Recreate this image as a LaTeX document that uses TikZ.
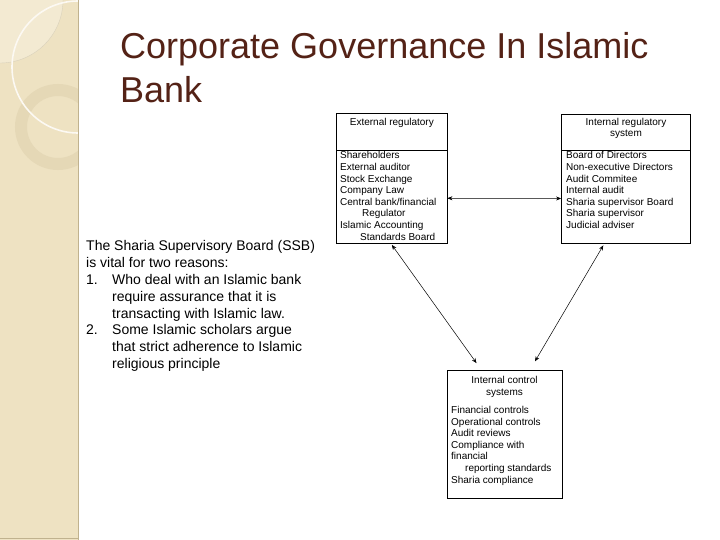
\documentclass[tikz,border=0pt]{standalone}
\usepackage{fontspec}
\setmainfont{Liberation Sans}
\usetikzlibrary{arrows.meta}

\begin{document}
\begin{tikzpicture}[x=1pt,y=1pt,
  panel/.style={draw=black,line width=0.8pt,inner sep=0pt},
  boxhead/.style={font=\fontsize{10}{11.2}\selectfont,align=center,inner sep=0pt,anchor=north},
  boxtext/.style={font=\fontsize{10}{11.6}\selectfont,align=left,inner sep=0pt,anchor=north west},
  link/.style={line width=0.5pt,{Stealth[length=5pt,width=4pt]}-{Stealth[length=5pt,width=4pt]}}]
\definecolor{sidefill}{RGB}{238,226,194}
\definecolor{sidelight}{RGB}{243,234,210}
\definecolor{sidering}{RGB}{229,216,182}
\definecolor{sideedge}{RGB}{192,178,142}
\definecolor{titlebrown}{RGB}{84,34,22}
\useasboundingbox (0,0) rectangle (720,-540);
\fill[white] (0,0) rectangle (720,-540);
% side strip
\begin{scope}
\clip (0,0) rectangle (78,-540);
\fill[sidefill] (0,0) rectangle (78,-540);
\fill[sidelight] (0,0) circle (63);
\draw[sideedge!60,line width=0.4pt] (0,0) circle (63);
\draw[sidering,line width=12pt] (58,-127) circle (37);
\draw[white!80!sidefill,line width=1.6pt] (78,-67) circle (66);
\end{scope}
\draw[sideedge,line width=1.2pt] (78.4,0) -- (78.4,-540);
\draw[sideedge,line width=1pt] (0,-538.5) -- (78.4,-538.5);
% title
\node[titlebrown,font=\fontsize{36}{45}\selectfont,anchor=base west,inner sep=0pt] (title1) at (120,-59) {Corporate Governance In Islamic};
\node[titlebrown,font=\fontsize{36}{45}\selectfont,anchor=base west,inner sep=0pt] (title2) at (120,-103) {Bank};
% reasons
\node[font=\fontsize{14}{16.8}\selectfont,align=left,anchor=north west,inner sep=0pt] (reasons) at (86,-240.5) {The Sharia Supervisory Board (SSB)\\
is vital for two reasons:\\
\makebox[26pt][l]{1.}Who deal with an Islamic bank\\
\hspace*{26pt}require assurance that it is\\
\hspace*{26pt}transacting with Islamic law.\\
\makebox[26pt][l]{2.}Some Islamic scholars argue\\
\hspace*{26pt}that strict adherence to Islamic\\
\hspace*{26pt}religious principle};
% boxes
\node[panel,minimum width=110.3,minimum height=130.5] (ext) at (391.85,-178.25) {};
\node[panel,minimum width=129,minimum height=129] (int) at (626,-178.5) {};
\node[panel,minimum width=115,minimum height=128] (ctrl) at (504.5,-434) {};
\draw[line width=0.8pt] (ext.west |- 0,-150) -- (ext.east |- 0,-150);
\draw[line width=0.8pt] (int.west |- 0,-150) -- (int.east |- 0,-150);
\node[boxhead] (exthead) at (391.85,-118) {External regulatory};
\node[boxhead] (inthead) at (626,-118) {Internal regulatory\\system};
\node[boxhead] (ctrlhead) at (504.5,-376.5) {Internal control\\systems};
\node[boxtext] (extlist) at (340,-151.5) {Shareholders\\External auditor\\Stock Exchange\\Company Law\\Central bank/financial\\\hspace*{22pt}Regulator\\Islamic Accounting\\\hspace*{20pt}Standards Board};
\node[boxtext] (intlist) at (566,-151.5) {Board of Directors\\Non-executive Directors\\Audit Commitee\\Internal audit\\Sharia supervisor Board\\Sharia supervisor\\Judicial adviser};
\node[boxtext] (ctrllist) at (451,-406) {Financial controls\\Operational controls\\Audit reviews\\Compliance with\\financial\\\hspace*{14pt}reporting standards\\Sharia compliance};
% links
\draw[link] ([yshift=-20pt]ext.east) -- ([yshift=-20pt]int.west);
\draw[link] ([yshift=-1pt]ext.south) -- ([xshift=-28pt,yshift=6.5pt]ctrl.north);
\draw[link] ([xshift=-22.7pt,yshift=-2pt]int.south) -- ([xshift=30.5pt,yshift=8.3pt]ctrl.north);
\end{tikzpicture}
\end{document}
